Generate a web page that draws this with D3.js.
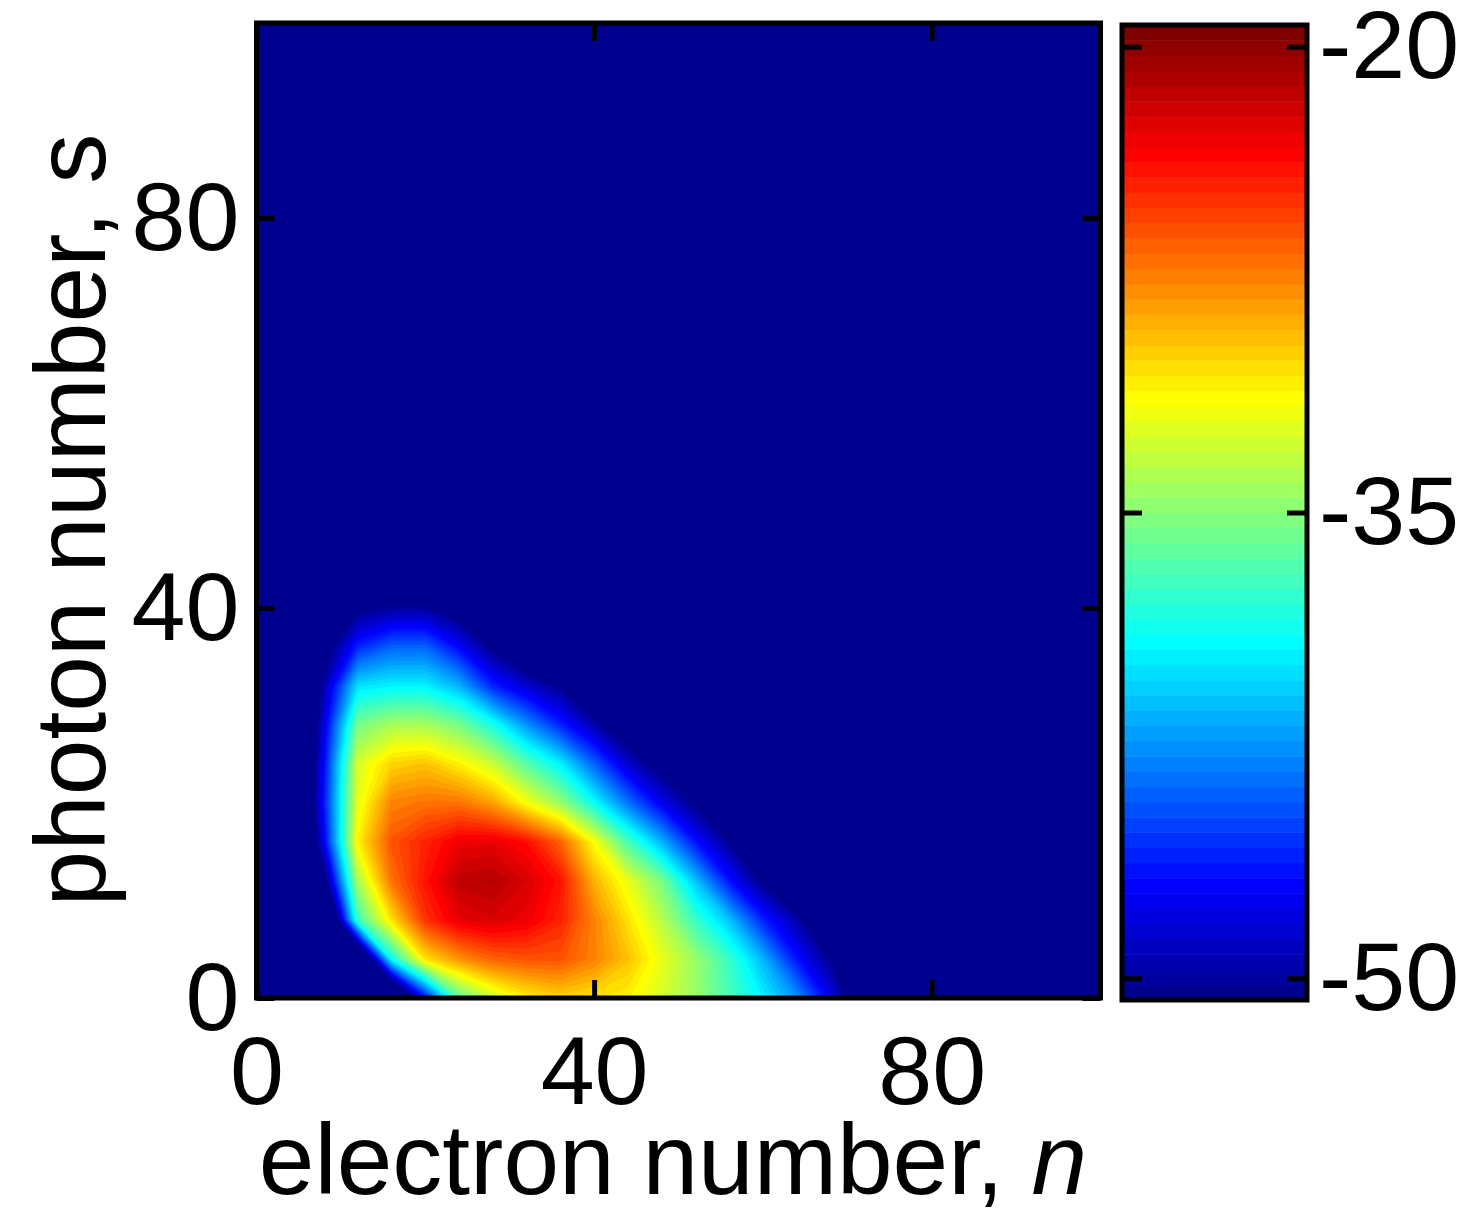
<!DOCTYPE html>
<html>
<head>
<meta charset="utf-8">
<script src="https://cdn.jsdelivr.net/npm/d3@7"></script>
<style>
body{margin:0;background:#fff;}
</style>
</head>
<body>
<svg id="chart" width="1469" height="1216"></svg>
<script>
// grid: electron number n (columns), photon number s (rows)
var nVals = [0,4,8,12,16,20,24,28,32,36,40,44,48,52,56,60,64,68,72,76];
var sVals = [0,4,8,12,16,20,24,28,32,36,40,44];
// log probability, one row per photon number (values below the colour limit all show as navy)
var row_s0  = [-60,-60,-60,-60,-60,-47,-36.5,-33,-31,-30,-30.5,-31,-32.5,-34.5,-37,-39.5,-42.5,-47.5,-54,-60];
var row_s4  = [-60,-60,-60,-58,-39,-30.5,-28,-26.5,-26,-26,-27.5,-29.5,-32,-34.5,-37.5,-41.5,-46.5,-50.5,-56,-60];
var row_s8  = [-60,-60,-60,-37.5,-30.5,-25,-22.8,-22.3,-23,-24.5,-27.5,-30.5,-33.5,-37.5,-41,-46,-49.5,-55,-60,-60];
var row_s12 = [-60,-60,-52,-34,-27,-24,-21.5,-21.2,-22.3,-24,-29,-32,-35.5,-41,-46.5,-50.8,-55,-60,-60,-60];
var row_s16 = [-60,-60,-47.5,-31,-26,-24.5,-23,-22.8,-23.8,-26.5,-31.5,-37,-41.5,-46.5,-50.3,-54,-60,-60,-60,-60];
var row_s20 = [-60,-60,-46.5,-32,-27.5,-27,-27,-28.5,-31.5,-34.5,-39,-43.5,-47.5,-50.8,-54,-60,-60,-60,-60,-60];
var row_s24 = [-60,-60,-47,-32.5,-30,-29.5,-31,-33,-36.5,-39.5,-44,-48.5,-51.5,-55,-60,-60,-60,-60,-60,-60];
var row_s28 = [-60,-60,-48,-35.5,-34,-34,-35.5,-38.5,-42.5,-46,-49.5,-52.5,-56,-60,-60,-60,-60,-60,-60,-60];
var row_s32 = [-60,-60,-49.5,-40,-39.5,-39.5,-41.5,-46,-48.5,-50.5,-53.5,-57,-60,-60,-60,-60,-60,-60,-60,-60];
var row_s36 = [-60,-60,-52,-46,-44,-44,-47,-50.8,-54,-57,-60,-60,-60,-60,-60,-60,-60,-60,-60,-60];
var row_s40 = [-60,-60,-56,-51,-50,-50,-52,-55,-58,-60,-60,-60,-60,-60,-60,-60,-60,-60,-60,-60];
var row_s44 = [-60,-60,-60,-60,-60,-60,-60,-60,-60,-60,-60,-60,-60,-60,-60,-60,-60,-60,-60,-60];
var rows = [row_s0,row_s4,row_s8,row_s12,row_s16,row_s20,row_s24,row_s28,row_s32,row_s36,row_s40,row_s44];

var xTicks = [0,40,80];
var yTicks = [0,40,80];
var cbTicks = [-50,-35,-20];
var cLim = [-50.7,-19.3];
var xLabel = "electron number, ", xVar = "n";
var yLabel = "photon number, ", yVar = "s";

var FONT = "Liberation Sans, Arial, sans-serif";
var FS = 97;   // tick labels
var LFS = 100; // axis titles

// matlab jet(64)
function jet(m){
	var n = Math.ceil(m/4), u = [], out = [];
	for(var i=1;i<=n;i++) u.push(i/n);
	for(var i=1;i<n;i++) u.push(1);
	for(var i=n;i>=1;i--) u.push(i/n);
	var L = u.length, off = Math.ceil(n/2) - (m%4==1?1:0);
	for(var i=1;i<=m;i++){
		var gi = i-off, ri = i-off-n, bi = i-off+n;
		var g = (gi>=1&&gi<=L)?u[gi-1]:0;
		var r = (ri>=1&&ri<=L)?u[ri-1]:0;
		var b = (bi>=1&&bi<=L)?u[bi-1]:0;
		out.push(d3.rgb(Math.round(r*255),Math.round(g*255),Math.round(b*255)).formatHex());
	}
	return out;
}
var jetColors = jet(64);
var color = d3.scaleQuantize().domain(cLim).range(jetColors);

var svg = d3.select("#chart");
var x = d3.scaleLinear().domain([0,100]).range([256.5,1100.5]);
var y = d3.scaleLinear().domain([0,100]).range([998,23]);

// grid index -> data -> pixel
var gx = d3.scaleLinear().domain([0.5, nVals.length-0.5]).range([x(nVals[0]), x(nVals[nVals.length-1])]);
var gy = d3.scaleLinear().domain([0.5, sVals.length-0.5]).range([y(sVals[0]), y(sVals[sVals.length-1])]);

svg.append("defs").append("clipPath").attr("id","plotclip")
	.append("rect")
	.attr("x",x(0)).attr("y",y(100))
	.attr("width",x(100)-x(0)).attr("height",y(0)-y(100));

var plot = svg.append("g").attr("clip-path","url(#plotclip)");
plot.append("rect")
	.attr("x",x(0)).attr("y",y(100))
	.attr("width",x(100)-x(0)).attr("height",y(0)-y(100))
	.attr("fill",jetColors[0]);

var values = [];
rows.forEach(function(r){ values = values.concat(r); });
var contours = d3.contours()
	.size([nVals.length, sVals.length])
	.thresholds(color.thresholds())(values);

var path = d3.geoPath(d3.geoTransform({
	point: function(px,py){ this.stream.point(gx(px), gy(py)); }
}));
plot.selectAll("path.band")
	.data(contours)
	.enter().append("path")
	.attr("class","band")
	.attr("d",path)
	.attr("fill",function(d){ return color(d.value); })
	.attr("stroke",function(d){ return color(d.value); })
	.attr("stroke-width",0.6);

// axes, ticks pointing inward on all four sides
function styleAxis(g){
	g.select(".domain").remove();
	g.selectAll(".tick line").attr("stroke","#000").attr("stroke-width",5);
	g.attr("font-family",FONT).attr("font-size",FS);
	g.selectAll("text").attr("fill","#000");
}
svg.append("g").attr("transform","translate(0,"+y(0)+")")
	.call(d3.axisBottom(x).tickValues(xTicks).tickSize(-18).tickSizeOuter(0).tickPadding(37))
	.call(styleAxis);
svg.append("g").attr("transform","translate(0,"+y(100)+")")
	.call(d3.axisTop(x).tickValues(xTicks).tickSize(-18).tickSizeOuter(0).tickFormat(""))
	.call(styleAxis);
svg.append("g").attr("transform","translate("+x(0)+",0)")
	.call(d3.axisLeft(y).tickValues(yTicks).tickSize(-18).tickSizeOuter(0).tickPadding(17))
	.call(styleAxis);
svg.append("g").attr("transform","translate("+x(100)+",0)")
	.call(d3.axisRight(y).tickValues(yTicks).tickSize(-18).tickSizeOuter(0).tickFormat(""))
	.call(styleAxis);

svg.append("rect")
	.attr("x",x(0)).attr("y",y(100))
	.attr("width",x(100)-x(0)).attr("height",y(0)-y(100))
	.attr("fill","none").attr("stroke","#000").attr("stroke-width",5);

// colorbar
var cbL = 1122, cbR = 1307;
var cb = d3.scaleLinear().domain(cLim).range([1000,25]);
svg.append("g").selectAll("rect")
	.data(jetColors)
	.enter().append("rect")
	.attr("x",cbL)
	.attr("width",cbR-cbL)
	.attr("y",function(c){ return cb(color.invertExtent(c)[1]); })
	.attr("height",function(c){ var e = color.invertExtent(c); return cb(e[0])-cb(e[1])+0.5; })
	.attr("fill",function(c){ return c; });

svg.append("g").attr("transform","translate("+cbR+",0)")
	.call(d3.axisRight(cb).tickValues(cbTicks).tickSize(-20).tickSizeOuter(0).tickPadding(12)
		.tickFormat(function(d){ return String(d); }))
	.call(styleAxis);
svg.append("g").attr("transform","translate("+cbL+",0)")
	.call(d3.axisLeft(cb).tickValues(cbTicks).tickSize(-20).tickSizeOuter(0).tickFormat(""))
	.call(styleAxis);
svg.append("rect")
	.attr("x",cbL).attr("y",cb(cLim[1]))
	.attr("width",cbR-cbL).attr("height",cb(cLim[0])-cb(cLim[1]))
	.attr("fill","none").attr("stroke","#000").attr("stroke-width",5);

// axis labels
var xl = svg.append("text")
	.attr("x",673).attr("y",1194)
	.attr("text-anchor","middle")
	.attr("font-family",FONT).attr("font-size",LFS);
xl.append("tspan").text(xLabel);
xl.append("tspan").attr("font-style","italic").text(xVar);

var yl = svg.append("text")
	.attr("transform","translate(105,520) rotate(-90)")
	.attr("text-anchor","middle")
	.attr("font-family",FONT).attr("font-size",LFS);
yl.append("tspan").text(yLabel);
yl.append("tspan").text(yVar);
</script>
</body>
</html>
